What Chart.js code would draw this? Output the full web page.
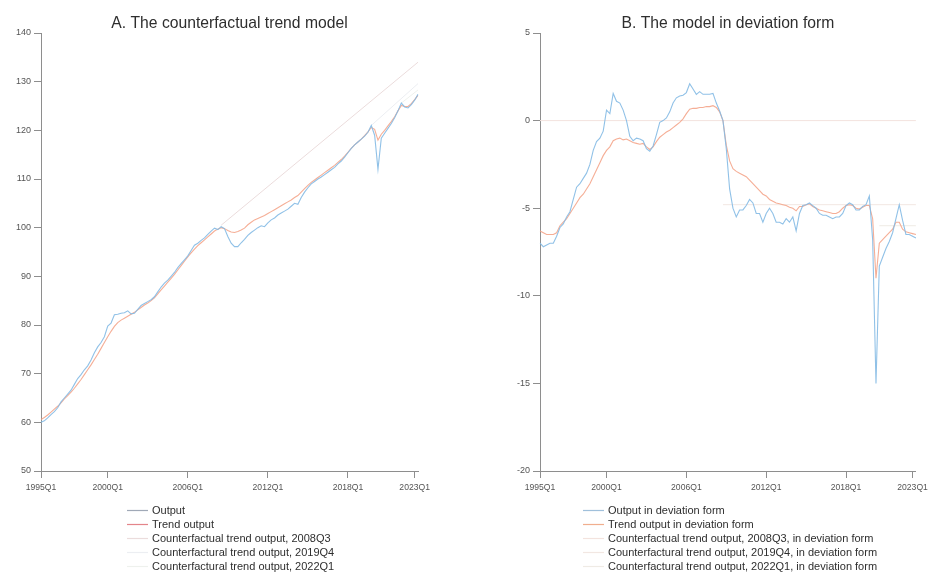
<!DOCTYPE html>
<html>
<head>
<meta charset="utf-8">
<script src="https://cdn.jsdelivr.net/npm/chart.js@4.4.0/dist/chart.umd.min.js"></script>
<style>
  html, body { margin: 0; padding: 0; background: #ffffff; }
  #wrap { position: relative; width: 932px; height: 577px; }
  .panel { position: absolute; top: 0; width: 466px; height: 577px; }
</style>
</head>
<body>
<div id="wrap">
  <div class="panel" style="left:0"><canvas id="chartA" width="466" height="577"></canvas></div>
  <div class="panel" style="left:466px"><canvas id="chartB" width="466" height="577"></canvas></div>
</div>
<script>
// Quarterly periods 1995Q1 .. 2023Q2
const quarters = [];
for (let y = 1995; y <= 2023; y++) {
  for (let q = 1; q <= 4; q++) {
    if (y === 2023 && q > 2) break;
    quarters.push(y + 'Q' + q);
  }
}
const tickQuarters = ['1995Q1', '2000Q1', '2006Q1', '2012Q1', '2018Q1', '2023Q1'];

// Panel A: levels (index)
const outputLevel = [
  60.0, 60.3, 60.9, 61.6, 62.2, 63.0, 64.2, 65.0, 65.8, 66.6,
  67.8, 69.0, 69.8, 70.8, 71.6, 72.8, 74.3, 75.5, 76.4, 77.6,
  79.8, 80.4, 82.1, 82.2, 82.4, 82.5, 82.9, 82.3, 82.4, 83.2,
  84.0, 84.4, 84.8, 85.2, 85.8, 86.8, 87.8, 88.6, 89.2, 90.0,
  90.8, 91.8, 92.6, 93.4, 94.2, 95.3, 96.4, 96.8, 97.4, 97.9,
  98.6, 99.3, 99.9, 99.6, 100.2, 99.8, 98.2, 96.8, 96.1, 96.1,
  96.9, 97.6, 98.4, 99.0, 99.5, 100.0, 100.4, 100.2, 101.0, 101.6,
  102.0, 102.6, 103.0, 103.4, 103.8, 104.4, 105.0, 104.8, 106.2, 107.3,
  108.2, 109.0, 109.5, 110.0, 110.4, 110.9, 111.4, 111.9, 112.4, 113.1,
  113.7, 114.5, 115.4, 116.3, 117.0, 117.6, 118.2, 118.8, 119.6, 121.0,
  119.0, 112.0, 118.4, 119.4, 120.4, 121.4, 122.6, 124.0, 125.6, 124.8,
  124.6, 125.3, 126.2, 127.4
];
const trendLevel = [
  60.6, 61.0, 61.5, 62.1, 62.7, 63.3, 64.0, 64.8, 65.5, 66.2,
  67.0, 67.9, 68.8, 69.8, 70.8, 71.8, 72.9, 74.0, 75.2, 76.4,
  77.6, 78.7, 79.7, 80.5, 81.0, 81.4, 81.8, 82.2, 82.6, 83.1,
  83.6, 84.1, 84.5, 85.0, 85.6, 86.4, 87.2, 88.0, 88.8, 89.6,
  90.4, 91.3, 92.2, 93.1, 94.0, 94.8, 95.6, 96.3, 96.9, 97.5,
  98.1, 98.7, 99.3, 99.7, 100.0, 99.8, 99.4, 99.1, 99.0, 99.2,
  99.5, 99.9, 100.6, 101.1, 101.6, 101.9, 102.2, 102.5, 102.9, 103.3,
  103.7, 104.1, 104.5, 104.9, 105.3, 105.7, 106.2, 106.6, 107.3, 108.0,
  108.7, 109.3, 109.8, 110.3, 110.8, 111.3, 111.8, 112.3, 112.8, 113.4,
  114.0, 114.7, 115.5, 116.3, 117.0, 117.6, 118.2, 118.9, 119.7, 120.6,
  120.2, 118.0, 119.2, 120.0, 120.9, 121.8, 122.8, 124.0, 125.1, 124.9,
  124.9, 125.5, 126.3, 127.2
];
const cf2008Level = [{ x: '2008Q3', y: 100.5 }, { x: '2023Q2', y: 134.0 }];
const cf2019Level = [{ x: '2019Q4', y: 121.0 }, { x: '2023Q2', y: 129.6 }];
const cf2022Level = [{ x: '2022Q1', y: 125.6 }, { x: '2023Q2', y: 128.3 }];

// Panel B: deviation form (per cent)
const outputDev = [
  -7.0, -7.2, -7.1, -7.0, -7.0, -6.6, -6.1, -5.9, -5.5, -5.2,
  -4.5, -3.8, -3.6, -3.3, -3.0, -2.5, -1.7, -1.2, -1.0, -0.6,
  0.6, 0.4, 1.55, 1.1, 1.0, 0.6, 0.0, -0.9, -1.15, -1.0,
  -1.05, -1.15, -1.6, -1.75, -1.45, -0.8, -0.1, 0.0, 0.15, 0.5,
  1.0, 1.3, 1.4, 1.45, 1.6, 2.1, 1.8, 1.5, 1.65, 1.5,
  1.5, 1.5, 1.55, 1.0, 0.55, 0.0, -1.6, -3.9, -5.0, -5.5,
  -5.1, -5.1, -4.85, -4.5, -4.7, -5.3, -5.3, -5.8, -5.3, -5.0,
  -5.3, -5.8, -5.8, -5.9, -5.6, -5.8, -5.5, -6.3, -5.3, -4.85,
  -4.8, -4.7, -4.85, -5.0, -5.3, -5.4, -5.4, -5.5, -5.6, -5.5,
  -5.5, -5.3, -4.85, -4.7, -4.8, -5.1, -5.1, -4.9, -4.8, -4.3,
  -6.8, -15.0, -8.3, -7.8, -7.3, -6.9, -6.4, -5.6, -4.8, -5.7,
  -6.5, -6.5, -6.6, -6.7
];
const trendDev = [
  -6.3, -6.4, -6.5, -6.5, -6.5, -6.4, -6.0, -5.8, -5.6, -5.3,
  -5.0, -4.7, -4.4, -4.2, -3.9, -3.6, -3.2, -2.8, -2.4, -2.0,
  -1.7, -1.5, -1.15, -1.05, -1.0, -1.1, -1.05, -1.15, -1.25, -1.3,
  -1.35, -1.3, -1.5, -1.65, -1.5, -1.2, -0.95, -0.8, -0.65, -0.55,
  -0.4, -0.25, -0.1, 0.1, 0.4, 0.65, 0.7, 0.7, 0.75, 0.75,
  0.8, 0.8, 0.85, 0.75, 0.5, 0.0, -1.4, -2.3, -2.75, -2.9,
  -3.0, -3.1, -3.2, -3.4, -3.6, -3.8, -4.0, -4.2, -4.3, -4.5,
  -4.6, -4.7, -4.75, -4.8, -4.85, -4.95, -5.0, -5.15, -4.9, -4.9,
  -4.8, -4.75, -4.9, -5.0, -5.1, -5.15, -5.2, -5.25, -5.3, -5.3,
  -5.2, -5.0, -4.85, -4.8, -4.85, -5.0, -5.05, -4.95, -4.85, -4.85,
  -5.6, -9.0, -7.0, -6.8, -6.6, -6.4, -6.2, -5.8, -5.8, -6.2,
  -6.35, -6.4, -6.45, -6.5
];
const cf2008Dev = [{ x: '1995Q1', y: 0 }, { x: '2023Q2', y: 0 }];
const cf2019Dev = [{ x: '2008Q4', y: -4.8 }, { x: '2023Q2', y: -4.8 }];
const cf2022Dev = [{ x: '2020Q3', y: -6.0 }, { x: '2023Q2', y: -6.0 }];

// Styling
const FONT = '"Liberation Sans", Arial, Helvetica, sans-serif';
const axisGray = '#8e8e8e';
const tickGray = '#555555';
const textDark = '#2e2e2e';
const colOutput = 'rgba(132,186,228,0.9)';
const colTrend = 'rgba(243,160,132,0.85)';

// Panel title and vertical legend drawn under the x axis
const panelDecor = {
  id: 'panelDecor',
  afterDraw(chart, args, opts) {
    const { ctx, chartArea } = chart;
    ctx.save();
    ctx.fillStyle = textDark;
    ctx.font = '15.7px ' + FONT;
    ctx.textAlign = 'center';
    ctx.textBaseline = 'alphabetic';
    ctx.fillText(opts.title, (chartArea.left + chartArea.right) / 2, 28);

    ctx.font = '11px ' + FONT;
    ctx.textAlign = 'left';
    chart.data.datasets.forEach((ds, i) => {
      const yMid = opts.legendTop + i * 14;
      ctx.strokeStyle = ds.legendColor || ds.borderColor;
      ctx.lineWidth = 1.2;
      ctx.beginPath();
      ctx.moveTo(opts.legendX, yMid + 0.5);
      ctx.lineTo(opts.legendX + 21, yMid + 0.5);
      ctx.stroke();
      ctx.fillStyle = textDark;
      ctx.fillText(ds.label, opts.legendX + 25, yMid + 4.3);
    });
    ctx.restore();
  }
};

function xScale() {
  return {
    type: 'category',
    grid: { display: true, drawOnChartArea: false, drawTicks: true, tickLength: 7, color: axisGray },
    border: { display: true, color: axisGray, width: 1 },
    ticks: { autoSkip: false, maxRotation: 0, padding: 4, color: tickGray, font: { family: FONT, size: 8.6 } },
    afterBuildTicks: s => { s.ticks = tickQuarters.map(q => ({ value: quarters.indexOf(q) })); },
    afterFit: s => { s.height = 40; }
  };
}

function yScale(min, max, step, width) {
  return {
    type: 'linear', min, max,
    grid: { display: true, drawOnChartArea: false, drawTicks: true, tickLength: 7, color: axisGray },
    border: { display: true, color: axisGray, width: 1 },
    ticks: { stepSize: step, padding: 3, color: tickGray, font: { family: FONT, size: 9 } },
    afterFit: s => { s.width = width; }
  };
}

function line(label, data, color, width, legendColor) {
  return {
    label, data,
    borderColor: color,
    legendColor,
    borderWidth: width,
    pointRadius: 0,
    tension: 0,
    fill: false
  };
}

function makeChart(id, cfg) {
  return new Chart(document.getElementById(id), {
    type: 'line',
    data: { labels: quarters, datasets: cfg.datasets },
    options: {
      responsive: false,
      animation: false,
      events: [],
      layout: { padding: cfg.padding },
      scales: { x: xScale(), y: yScale(cfg.min, cfg.max, cfg.step, cfg.yWidth) },
      plugins: {
        legend: { display: false },
        title: { display: false },
        tooltip: { enabled: false },
        panelDecor: { title: cfg.title, legendX: cfg.legendX, legendTop: 510 }
      }
    },
    plugins: [panelDecor]
  });
}

makeChart('chartA', {
  title: 'A. The counterfactual trend model',
  min: 50, max: 140, step: 10, yWidth: 41,
  padding: { left: 0, top: 33, right: 48, bottom: 66 },
  legendX: 127,
  datasets: [
    line('Output', outputLevel, colOutput, 1.1, 'rgba(150,160,175,0.9)'),
    line('Trend output', trendLevel, colTrend, 1.1, 'rgba(225,120,125,0.9)'),
    line('Counterfactual trend output, 2008Q3', cf2008Level, '#ebdcdc', 1),
    line('Counterfactural trend output, 2019Q4', cf2019Level, '#eceef2', 1),
    line('Counterfactural trend output, 2022Q1', cf2022Level, '#eef1ed', 1)
  ]
});

makeChart('chartB', {
  title: 'B. The model in deviation form',
  min: -20, max: 5, step: 5, yWidth: 74,
  padding: { left: 0, top: 33, right: 15, bottom: 66 },
  legendX: 117,
  datasets: [
    line('Output in deviation form', outputDev, colOutput, 1.1, 'rgba(150,185,215,0.9)'),
    line('Trend output in deviation form', trendDev, colTrend, 1.1, 'rgba(240,165,130,0.9)'),
    line('Counterfactual trend output, 2008Q3, in deviation form', cf2008Dev, '#f3e3de', 1),
    line('Counterfactural trend output, 2019Q4, in deviation form', cf2019Dev, '#f2e7e2', 1),
    line('Counterfactural trend output, 2022Q1, in deviation form', cf2022Dev, '#efebe5', 1)
  ]
});
</script>
</body>
</html>
